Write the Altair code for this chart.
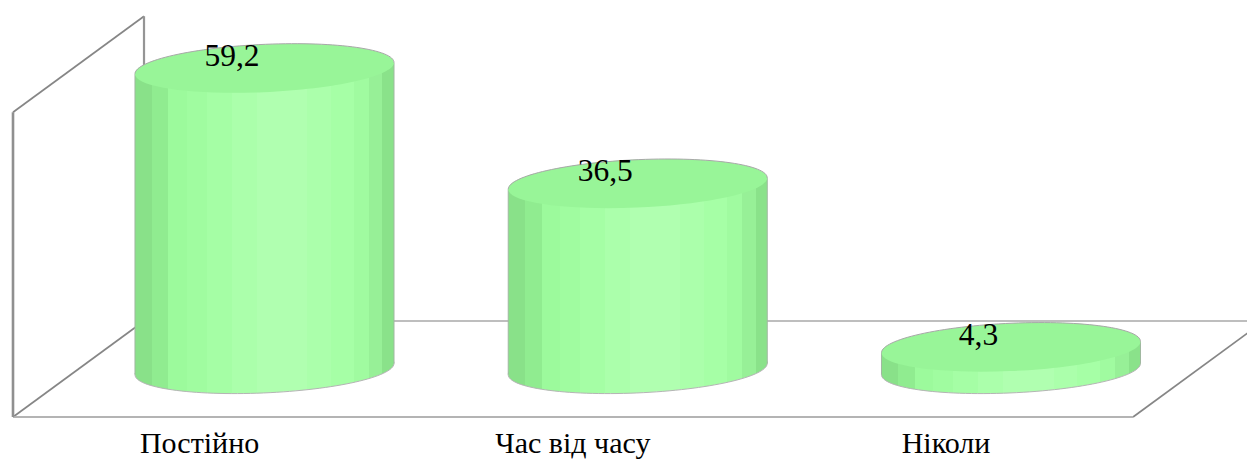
import altair as alt
import pandas as pd

categories = ["Постійно", "Час від часу", "Ніколи"]
values = [59.2, 36.5, 4.3]
value_labels = ["59,2", "36,5", "4,3"]
positions = [0, 1, 2]

W, H = 1239, 452
X_DOMAIN = [-0.6872, 2.6323]
Y_DOMAIN = [-17.913, 71.063]
RADIUS = 0.347
TILT = 1.08
AXIS_MAX = 60
FLOOR_FRONT, FLOOR_BACK = -9.45, 9.45
LEFT_FRONT, RIGHT_FRONT = -0.6738, 2.327
DEPTH_X = 0.351

x_scale = alt.Scale(domain=X_DOMAIN, nice=False, zero=False)
y_scale = alt.Scale(domain=Y_DOMAIN, nice=False, zero=False)


def ellipse_pts(ry=0.185, tilt=0.0425):
    k = 0.5523
    rot = lambda px, py: (px - py * tilt, py + px * -tilt)
    f = lambda p: "%.4f,%.4f" % rot(*p)
    return f, k, ry


def ellipse_path(upper_only=False):
    f, k, ry = ellipse_pts()
    d = "M" + f((-1, 0))
    d += "C" + f((-1, -k * ry)) + " " + f((-k, -ry)) + " " + f((0, -ry))
    d += "C" + f((k, -ry)) + " " + f((1, -k * ry)) + " " + f((1, 0))
    if upper_only:
        return d
    d += "C" + f((1, k * ry)) + " " + f((k, ry)) + " " + f((0, ry))
    d += "C" + f((-k, ry)) + " " + f((-1, k * ry)) + " " + f((-1, 0)) + "Z"
    return d


bands = [
    (0.000, "#89e189"), (0.065, "#90ec90"), (0.129, "#9cfa9c"), (0.200, "#a0fca0"),
    (0.277, "#a5fea5"), (0.374, "#abffab"), (0.471, "#b0ffb0"), (0.665, "#abffab"),
    (0.755, "#a6ffa6"), (0.845, "#a0fba0"), (0.903, "#97f097"), (0.955, "#8ae28a"),
]
stops = []
for i, (start, colour) in enumerate(bands):
    end = bands[i + 1][0] if i + 1 < len(bands) else 1.0
    stops.append(alt.GradientStop(offset=start, color=colour))
    stops.append(alt.GradientStop(offset=end, color=colour))
body_fill = alt.Gradient(gradient="linear", stops=stops, x1=0, x2=1, y1=0, y2=0)

PX = 259 ** 2
main = pd.DataFrame({"pos": positions, "value": values, "label": value_labels,
                     "cat": categories, "base": [0, 0, 0]})
main["label_x"] = main["pos"] - 0.087
main["label_y"] = main["value"] + 0.5
main["cat_x"] = main["pos"] - 0.174
main["cat_y"] = -16.5

body_rows = []
for p, v in zip(positions, values):
    body_rows.append({"pos": p, "x": p - RADIUS, "top": v - TILT, "bottom": -TILT})
    body_rows.append({"pos": p, "x": p + RADIUS, "top": v + TILT, "bottom": TILT})
body = pd.DataFrame(body_rows)

X = alt.X("x:Q", scale=x_scale, axis=None)
Y = alt.Y("y:Q", scale=y_scale, axis=None)


def rules(rows, colour, width):
    df = pd.DataFrame(rows, columns=["x", "y", "x2", "y2"])
    return alt.Chart(df).mark_rule(color=colour, strokeWidth=width).encode(
        x=X, y=Y, x2="x2:Q", y2="y2:Q")


back_x = LEFT_FRONT + DEPTH_X
frame = [
    rules([(back_x, FLOOR_BACK, 2.8, FLOOR_BACK)], "#a8a8a8", 1.5),
    rules([(LEFT_FRONT, FLOOR_FRONT, back_x, FLOOR_BACK),
           (RIGHT_FRONT, FLOOR_FRONT, RIGHT_FRONT + DEPTH_X, FLOOR_BACK),
           (LEFT_FRONT, FLOOR_FRONT + AXIS_MAX, back_x, FLOOR_BACK + AXIS_MAX)], "#868686", 1.7),
    rules([(back_x, FLOOR_BACK, back_x, FLOOR_BACK + AXIS_MAX)], "#959595", 2.2),
    rules([(LEFT_FRONT, FLOOR_FRONT, RIGHT_FRONT, FLOOR_FRONT)], "#b4b4b4", 2),
    rules([(LEFT_FRONT, FLOOR_FRONT, LEFT_FRONT, FLOOR_FRONT + AXIS_MAX)], "#909090", 2.6),
]

bottom_cap = alt.Chart(main).mark_point(
    shape=ellipse_path(), size=PX, filled=True, fill=body_fill, stroke="#b5b5b5",
    strokeWidth=1, opacity=1).encode(
    x=alt.X("pos:Q", scale=x_scale, axis=None), y=alt.Y("base:Q", scale=y_scale, axis=None))

side = alt.Chart(body).mark_area(fill=body_fill, orient="vertical", opacity=1).encode(
    x=alt.X("x:Q", scale=x_scale, axis=None), y=alt.Y("top:Q", scale=y_scale, axis=None), y2="bottom:Q",
    detail="pos:N")

edges = alt.Chart(body).mark_rule(color="#a0b8a0", strokeWidth=1).encode(
    x=alt.X("x:Q", scale=x_scale, axis=None), y=alt.Y("top:Q", scale=y_scale, axis=None), y2="bottom:Q")

top_cap = alt.Chart(main).mark_point(
    shape=ellipse_path(), size=PX, filled=True, fill="#98f598", strokeWidth=0, opacity=1).encode(
    x=alt.X("pos:Q", scale=x_scale, axis=None), y=alt.Y("value:Q", scale=y_scale, axis=None))

top_arc = alt.Chart(main).mark_point(
    shape=ellipse_path(upper_only=True), size=PX, filled=False, stroke="#a8a8a8",
    strokeWidth=1, opacity=1).encode(
    x=alt.X("pos:Q", scale=x_scale, axis=None), y=alt.Y("value:Q", scale=y_scale, axis=None))

value_text = alt.Chart(main).mark_text(
    font="Liberation Serif", fontSize=31.5, color="#000000", baseline="alphabetic", align="center").encode(
    x=alt.X("label_x:Q", scale=x_scale, axis=None), y=alt.Y("label_y:Q", scale=y_scale, axis=None),
    text="label:N")

cat_text = alt.Chart(main).mark_text(
    font="Liberation Serif", fontSize=30, color="#000000", baseline="alphabetic", align="center").encode(
    x=alt.X("cat_x:Q", scale=x_scale, axis=None), y=alt.Y("cat_y:Q", scale=y_scale, axis=None),
    text="cat:N")

chart = alt.layer(*frame, bottom_cap, side, edges, top_cap, top_arc, value_text, cat_text).properties(
    width=W, height=H, padding=0, autosize=alt.AutoSizeParams(type="none"),
    background="white").configure_view(stroke=None)

chart.save("out.html", embed_options={"renderer": "svg", "actions": False})
